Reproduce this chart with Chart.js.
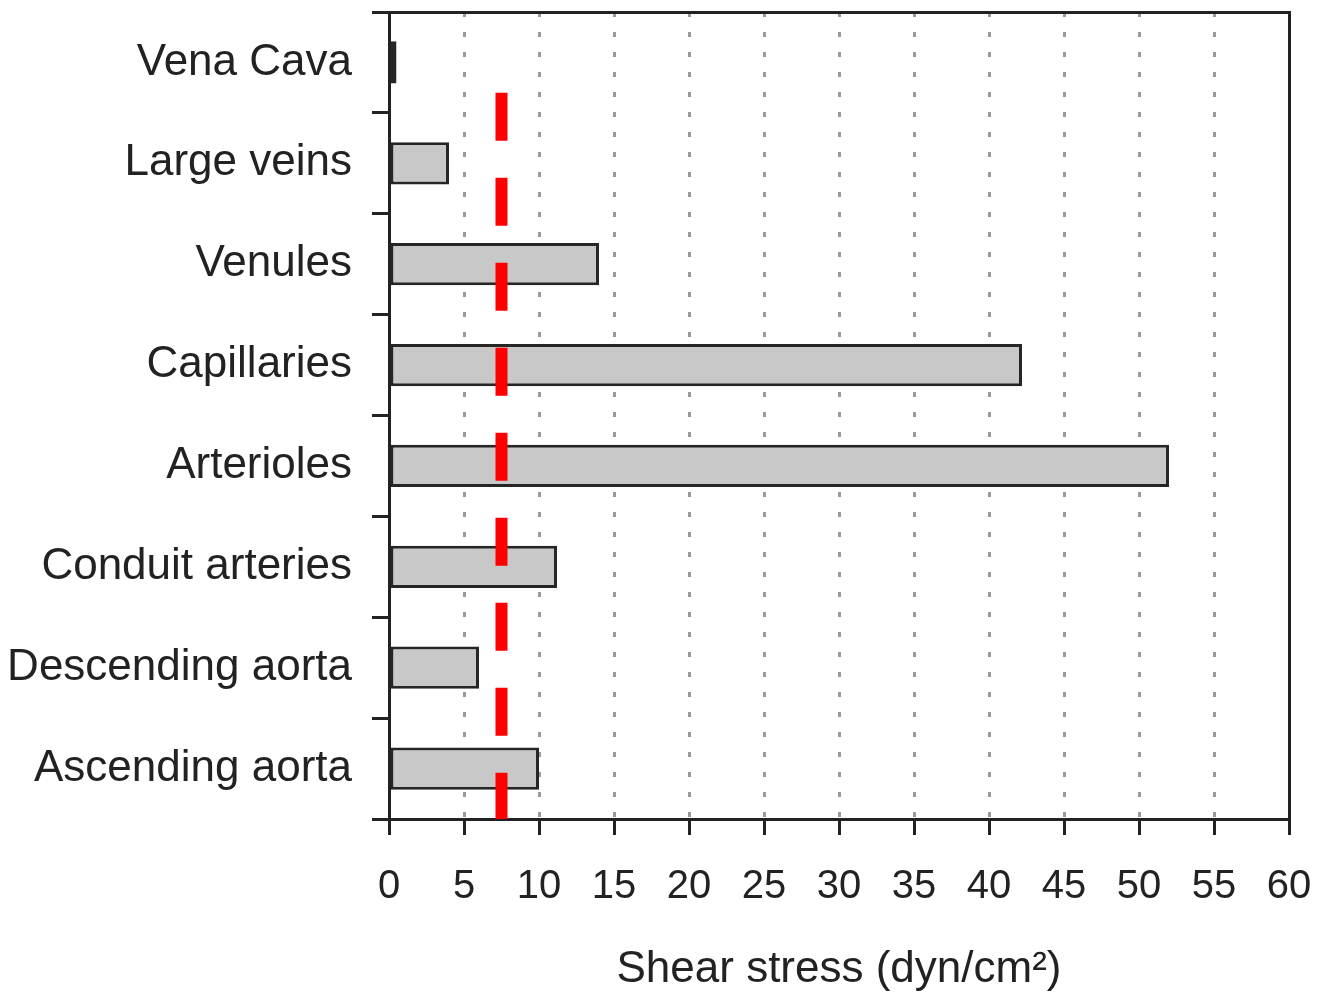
<!DOCTYPE html>
<html>
<head>
<meta charset="utf-8">
<script src="https://cdn.jsdelivr.net/npm/chart.js@4.4.1/dist/chart.umd.min.js"></script>
<style>
  html, body { margin: 0; padding: 0; background: #fff; }
  #wrap { width: 1320px; height: 992px; }
</style>
</head>
<body>
<div id="wrap"><canvas id="shearChart" width="1320" height="992"></canvas></div>
<script>
// vessel categories, top to bottom
const vessels = ['Vena Cava', 'Large veins', 'Venules', 'Capillaries', 'Arterioles',
                 'Conduit arteries', 'Descending aorta', 'Ascending aorta'];
// shear stress (dyn/cm2)
const shearStress = [0.5, 4, 14, 42.2, 52, 11.2, 6, 10];
// x axis range and tick step
const xRange = [0, 60];
const xStep = 5;
// red dashed reference line: x value, and how far up the plot it reaches (0..1)
const refLineX = 7.5;
const refLineSpan = [0, 0.9];

const font = '"Liberation Sans", Arial, Helvetica, sans-serif';
const ink = '#222';

const ctx = document.getElementById('shearChart').getContext('2d');

new Chart(ctx, {
    type: 'bar',
    data: {
        labels: vessels,
        datasets: [{
            type: 'bar',
            indexAxis: 'y',
            data: shearStress,
            xAxisID: 'x',
            yAxisID: 'y',
            backgroundColor: '#c8c8c8',
            borderColor: '#262626',
            borderWidth: 3,
            borderSkipped: false,
            barPercentage: 0.42,
            categoryPercentage: 1.0,
            order: 2
        }, {
            type: 'line',
            indexAxis: 'x',
            data: [{ x: refLineX, y: refLineSpan[1] }, { x: refLineX, y: refLineSpan[0] }],
            xAxisID: 'x',
            yAxisID: 'yRef',
            borderColor: '#ff0000',
            borderWidth: 12,
            borderDash: [48, 37],
            borderCapStyle: 'butt',
            pointRadius: 0,
            fill: false,
            order: 1
        }]
    },
    options: {
        responsive: false,
        animation: false,
        layout: { padding: { top: 12, right: 31, left: 0, bottom: 0 } },
        plugins: {
            legend: { display: false },
            tooltip: { enabled: false }
        },
        scales: {
            x: {
                type: 'linear',
                position: 'bottom',
                offset: false,
                min: xRange[0],
                max: xRange[1],
                ticks: {
                    stepSize: xStep,
                    color: ink,
                    font: { family: font, size: 40 },
                    padding: 28,
                    maxRotation: 0
                },
                grid: {
                    offset: false,
                    color: (c) => (c.tick && (c.tick.value === xRange[0] || c.tick.value === xRange[1])) ? 'rgba(0,0,0,0)' : '#9a9a9a',
                    lineWidth: 3,
                    tickColor: ink,
                    tickWidth: 3,
                    tickLength: 16
                },
                border: { color: ink, width: 3, dash: [5, 15] },
                title: {
                    display: true,
                    text: 'Shear stress (dyn/cm\u00b2)',
                    color: ink,
                    font: { family: font, size: 44, lineHeight: 1.0 },
                    padding: { top: 9, bottom: 0 }
                },
                afterFit: (s) => { s.paddingLeft = 0; s.paddingRight = 0; }
            },
            xTop: {
                type: 'linear',
                position: 'top',
                min: xRange[0],
                max: xRange[1],
                ticks: { display: false },
                grid: { display: false },
                border: { color: ink, width: 3 },
                afterFit: (s) => { s.height = 0; s.paddingLeft = 0; s.paddingRight = 0; }
            },
            y: {
                type: 'category',
                position: 'left',
                offset: true,
                ticks: {
                    color: ink,
                    font: { family: font, size: 44 },
                    padding: 20
                },
                grid: {
                    offset: true,
                    drawOnChartArea: false,
                    color: ink,
                    lineWidth: 3,
                    tickLength: 17
                },
                border: { color: ink, width: 3 },
                afterFit: (s) => { s.width = 389; s.paddingTop = 0; s.paddingBottom = 0; }
            },
            yRight: {
                type: 'linear',
                position: 'right',
                min: 0,
                max: 1,
                ticks: { display: false },
                grid: { display: false },
                border: { color: ink, width: 3 },
                afterFit: (s) => { s.width = 0; s.paddingTop = 0; s.paddingBottom = 0; }
            },
            yRef: {
                type: 'linear',
                display: false,
                min: 0,
                max: 1
            }
        }
    }
});
</script>
</body>
</html>
